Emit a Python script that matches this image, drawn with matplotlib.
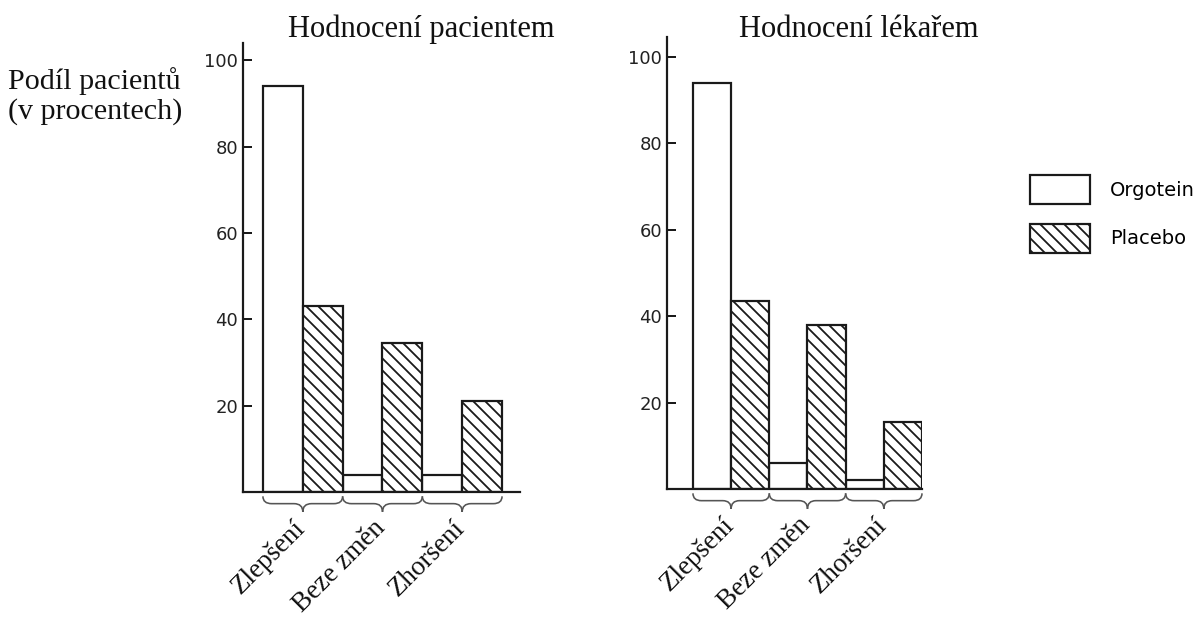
import matplotlib.pyplot as plt
from matplotlib.patches import PathPatch
from matplotlib.path import Path

categories = ['Zlepšení', 'Beze změn', 'Zhoršení']
series_names = ['Orgotein', 'Placebo']
panel_titles = ['Hodnocení pacientem', 'Hodnocení lékařem']
orgotein_patient = [94, 4, 4]
placebo_patient = [43, 34.5, 21]
orgotein_doctor = [94, 6, 2]
placebo_doctor = [43.5, 38, 15.5]
yticks = [20, 40, 60, 80, 100]

ink = '#1a1a1a'
serif = 'Liberation Serif'
sans = 'DejaVu Sans'
plt.rcParams['hatch.linewidth'] = 1.8

W, H = 1203, 617
fig = plt.figure(figsize=(W / 72, H / 72), dpi=72)
fig.patch.set_facecolor('white')

def px_axes(left, right, top, bottom):
    return fig.add_axes([left / W, 1 - bottom / H, (right - left) / W, (bottom - top) / H])

def brace(ax, x0, x1):
    # curly brace under one group of bars
    xm = (x0 + x1) / 2
    e, h, t, r = -1.0, -2.7, -4.6, 0.22
    verts = [(x0, e), (x0, h), (x0 + r, h), (xm - r, h), (xm, h), (xm, t),
             (xm, h), (xm + r, h), (x1 - r, h), (x1, h), (x1, e)]
    codes = [Path.MOVETO, Path.CURVE3, Path.CURVE3, Path.LINETO, Path.CURVE3, Path.CURVE3,
             Path.CURVE3, Path.CURVE3, Path.LINETO, Path.CURVE3, Path.CURVE3]
    ax.add_patch(PathPatch(Path(verts, codes), facecolor='none', edgecolor='#555555',
                           linewidth=1.6, clip_on=False))

def draw_panel(ax, org, plc, ytop, xlim):
    xo = [2 * i for i in range(len(categories))]
    xp = [2 * i + 1 for i in range(len(categories))]
    b1 = ax.bar(xo, org, width=1, facecolor='white', edgecolor=ink, linewidth=2.2,
                label=series_names[0])
    b2 = ax.bar(xp, plc, width=1, facecolor='white', edgecolor=ink, linewidth=2.2,
                hatch='\\\\', label=series_names[1])
    ax.set_xlim(*xlim)
    ax.set_ylim(0, ytop)
    ax.set_yticks(yticks)
    ax.set_xticks([])
    for s in ['top', 'right']:
        ax.spines[s].set_visible(False)
    for s in ['left', 'bottom']:
        ax.spines[s].set_linewidth(2.2)
        ax.spines[s].set_color(ink)
    ax.tick_params(axis='y', direction='in', length=9, width=2, color=ink,
                   labelsize=18, labelcolor='#222222', pad=5)
    for lab in ax.get_yticklabels():
        lab.set_family(sans)
    ax.set_facecolor('none')
    for i, cat in enumerate(categories):
        brace(ax, 2 * i - 0.5, 2 * i + 1.5)
        ax.text(2 * i + 0.25, -5.4, cat, rotation=45, ha='right', va='top',
                rotation_mode='anchor', fontsize=27, family=serif, color='#111111',
                clip_on=False)
    return b1, b2

ax1 = px_axes(243, 520, 43, 492)
ax2 = px_axes(667, 922, 37, 489)
h1, h2 = draw_panel(ax1, orgotein_patient, placebo_patient, 104, (-1.0, 5.95))
draw_panel(ax2, orgotein_doctor, placebo_doctor, 104.6, (-1.18, 5.5))

fig.text(421 / W, 1 - 37 / H, panel_titles[0], ha='center', va='baseline',
         fontsize=30.5, family=serif, color='#111111')
fig.text(859 / W, 1 - 37 / H, panel_titles[1], ha='center', va='baseline',
         fontsize=30.5, family=serif, color='#111111')
fig.text(8 / W, 1 - 89 / H, 'Podíl pacientů', ha='left', va='baseline',
         fontsize=30, family=serif, color='#111111')
fig.text(8 / W, 1 - 119 / H, '(v procentech)', ha='left', va='baseline',
         fontsize=30, family=serif, color='#111111')

fs = 19.5
fig.legend([h1, h2], series_names, loc='upper left',
           bbox_to_anchor=(1030 / W, 1 - 175 / H), frameon=False,
           prop={'family': sans, 'size': fs},
           handlelength=60 / fs, handleheight=37 / fs, handletextpad=20 / fs,
           labelspacing=20 / fs, borderpad=0, borderaxespad=0)

fig.savefig('out.png', dpi=72, facecolor='white')
